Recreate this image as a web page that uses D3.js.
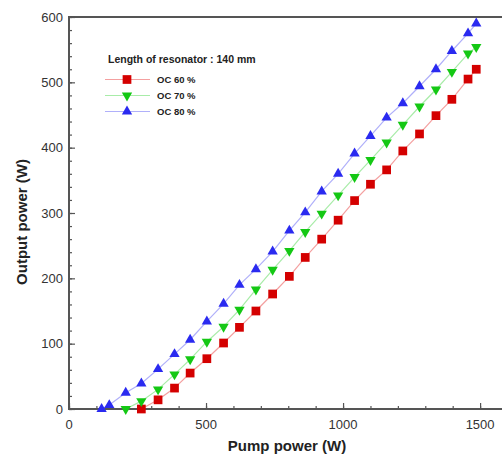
<!DOCTYPE html>
<html>
<head>
<meta charset="utf-8">
<script src="https://cdn.jsdelivr.net/npm/d3@7"></script>
<style>
  html, body { margin: 0; padding: 0; background: #fff; }
  svg { display: block; font-family: "Liberation Sans", Arial, sans-serif; }
</style>
</head>
<body>
<svg id="chart" width="502" height="456"></svg>
<script>
// Pump power (W) for each measured point
const pumpOC80 = [119, 147, 207, 264, 325, 385, 442, 503, 564, 622, 682, 743, 804, 862, 922, 982, 1042, 1100, 1159, 1218, 1279, 1339, 1397, 1456, 1486];
const pumpOC70 = [207, 264, 325, 385, 442, 503, 564, 622, 682, 743, 804, 862, 922, 982, 1042, 1100, 1159, 1218, 1279, 1339, 1397, 1456, 1486];
const pumpOC60 = [264, 325, 385, 442, 503, 564, 622, 682, 743, 804, 862, 922, 982, 1042, 1100, 1159, 1218, 1279, 1339, 1397, 1456, 1486];

// Output power (W)
const outOC60 = [0, 14, 32, 55, 77, 101, 125, 150, 176, 203, 232, 260, 289, 319, 344, 366, 395, 421, 449, 474, 505, 520];
const outOC70 = [0, 12, 30, 53, 76, 103, 126, 152, 183, 213, 242, 271, 299, 327, 355, 381, 408, 435, 463, 489, 516, 544, 554];
const outOC80 = [0, 6, 25, 39, 61, 84, 106, 134, 161, 190, 214, 241, 273, 301, 333, 360, 391, 418, 446, 468, 494, 520, 548, 575, 590];

const seriesNames = ["OC 60 %", "OC 70 %", "OC 80 %"];
const xTicks = [0, 500, 1000, 1500];
const yTicks = [0, 100, 200, 300, 400, 500, 600];
const legendTitle = "Length of resonator : 140 mm";

const series = [
  { name: seriesNames[0], x: pumpOC60, y: outOC60, shape: d3.symbolSquare, rot: 0, fill: "#d40000", line: "#f4a0a0" },
  { name: seriesNames[1], x: pumpOC70, y: outOC70, shape: d3.symbolTriangle, rot: 180, fill: "#14c814", line: "#a8eca8" },
  { name: seriesNames[2], x: pumpOC80, y: outOC80, shape: d3.symbolTriangle, rot: 0, fill: "#2a2af0", line: "#b0b0fa" }
];

const svg = d3.select("#chart");
const x = d3.scaleLinear().domain([0, 1600]).range([69, 507.5]);
const y = d3.scaleLinear().domain([0, 600]).range([409, 17]);

const axisColor = "#555";
const markerSize = s => s.shape === d3.symbolSquare ? 76 : 46;

// frame: top border
svg.append("line")
  .attr("x1", x(0)).attr("x2", 502)
  .attr("y1", y(600)).attr("y2", y(600))
  .attr("stroke", axisColor).attr("stroke-width", 2);

// y axis with inward ticks
const yAxisMinor = d3.axisRight(y).tickValues(d3.range(0, 601, 20)).tickSize(3).tickFormat("");
const yAxisMajor = d3.axisRight(y).tickValues(yTicks).tickSize(6).tickFormat("");
[yAxisMinor, yAxisMajor].forEach(ax => {
  const g = svg.append("g").attr("transform", `translate(${x(0)},0)`).call(ax);
  g.select(".domain").remove();
  g.selectAll("line").attr("stroke", axisColor).attr("stroke-width", 1.2);
});
svg.append("line")
  .attr("x1", x(0)).attr("x2", x(0))
  .attr("y1", y(600) - 1).attr("y2", y(0) + 1)
  .attr("stroke", axisColor).attr("stroke-width", 2);

// x axis with inward ticks
const xAxisMinor = d3.axisTop(x).tickValues(d3.range(0, 1601, 100)).tickSize(3).tickFormat("");
const xAxisMajor = d3.axisTop(x).tickValues(xTicks).tickSize(6).tickFormat("");
[xAxisMinor, xAxisMajor].forEach(ax => {
  const g = svg.append("g").attr("transform", `translate(0,${y(0)})`).call(ax);
  g.select(".domain").remove();
  g.selectAll("line").attr("stroke", axisColor).attr("stroke-width", 1.2);
});
svg.append("line")
  .attr("x1", x(0)).attr("x2", 502)
  .attr("y1", y(0)).attr("y2", y(0))
  .attr("stroke", axisColor).attr("stroke-width", 2);

// tick labels
svg.append("g").selectAll("text").data(yTicks).join("text")
  .attr("x", x(0) - 6).attr("y", d => y(d) + 4.5)
  .attr("text-anchor", "end").attr("font-size", 13).attr("fill", "#333")
  .text(d => d);
svg.append("g").selectAll("text").data(xTicks).join("text")
  .attr("x", d => x(d)).attr("y", y(0) + 20)
  .attr("text-anchor", "middle").attr("font-size", 13).attr("fill", "#333")
  .text(d => d);

// axis titles
svg.append("text")
  .attr("x", 287).attr("y", 451)
  .attr("text-anchor", "middle").attr("font-size", 15).attr("font-weight", "bold").attr("fill", "#222")
  .text("Pump power (W)");
svg.append("text")
  .attr("transform", "translate(27,222) rotate(-90)")
  .attr("text-anchor", "middle").attr("font-size", 15).attr("font-weight", "bold").attr("fill", "#222")
  .text("Output power (W)");

// series lines and markers
const line = d3.line().x(d => x(d[0])).y(d => y(d[1]));
series.forEach(s => {
  const pts = s.x.map((v, i) => [v, s.y[i]]);
  svg.append("path").datum(pts)
    .attr("d", line).attr("fill", "none")
    .attr("stroke", s.line).attr("stroke-width", 1.2);
  svg.append("g").selectAll("path").data(pts).join("path")
    .attr("d", d3.symbol().type(s.shape).size(markerSize(s)))
    .attr("transform", d => `translate(${x(d[0])},${y(d[1])}) rotate(${s.rot})`)
    .attr("fill", s.fill);
});

// legend
const lg = svg.append("g");
lg.append("text")
  .attr("x", 108).attr("y", 62.5)
  .attr("font-size", 10.5).attr("font-weight", "bold").attr("fill", "#222")
  .text(legendTitle);
series.forEach((s, i) => {
  const ly = 79.5 + i * 16;
  lg.append("line")
    .attr("x1", 105).attr("x2", 150).attr("y1", ly).attr("y2", ly)
    .attr("stroke", s.line).attr("stroke-width", 1.2);
  lg.append("path")
    .attr("d", d3.symbol().type(s.shape).size(markerSize(s)))
    .attr("transform", `translate(127,${ly}) rotate(${s.rot})`)
    .attr("fill", s.fill);
  lg.append("text")
    .attr("x", 157).attr("y", ly + 3.5)
    .attr("font-size", 9.5).attr("font-weight", "bold").attr("fill", "#222")
    .text(s.name);
});
</script>
</body>
</html>
